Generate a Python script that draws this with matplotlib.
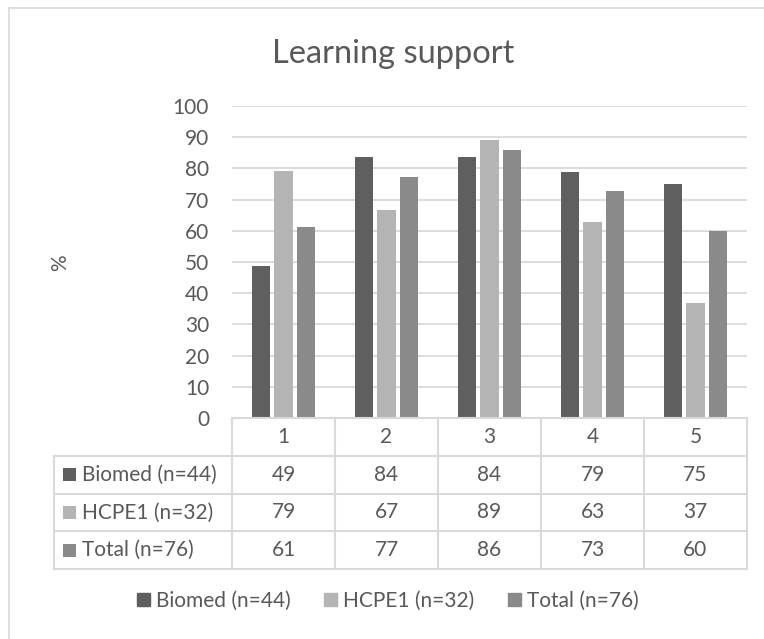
import matplotlib
matplotlib.use("Agg")
import matplotlib.pyplot as plt
from matplotlib.patches import Rectangle
from matplotlib.lines import Line2D
import numpy as np

plt.rcParams['font.family'] = ['Lato', 'DejaVu Sans']

title = "Learning support"
categories = ["1", "2", "3", "4", "5"]
series_names = ["Biomed (n=44)", "HCPE1 (n=32)", "Total (n=76)"]
biomed = [48.7, 83.8, 83.8, 79.0, 75.0]
hcpe1 = [79.3, 66.7, 89.2, 62.9, 37.0]
total = [61.3, 77.1, 85.9, 72.9, 59.8]
table_vals = [[49, 84, 84, 79, 75],
              [79, 67, 89, 63, 37],
              [61, 77, 86, 73, 60]]
colors = ["#5f5f5f", "#b4b4b4", "#8a8a8a"]

TXT = "#595959"
GRID = "#d9d9d9"
W, H = 764, 639
FS = 15

def fx(x):
    return x / W

def fy(y):
    return 1 - y / H

fig = plt.figure(figsize=(W / 100, H / 100), dpi=100)

# outer chart border (right/bottom edges fall outside the image)
fig.add_artist(Line2D([fx(8.5), fx(8.5)], [fy(7.5), 0], color=GRID, lw=1.2))
fig.add_artist(Line2D([fx(8.5), 1], [fy(7.5), fy(7.5)], color=GRID, lw=1.2))

# plot area
L, R, T, B = 232, 747, 106, 418
ax = fig.add_axes([fx(L), fy(B), (R - L) / W, (B - T) / H])
x = np.arange(len(categories))
bw = 0.175
step = 0.222
for i, (vals, c) in enumerate(zip([biomed, hcpe1, total], colors)):
    ax.bar(x + (i - 1) * step, vals, bw, color=c, label=series_names[i], zorder=3)
ax.set_xlim(-0.5, 4.5)
ax.set_ylim(0, 100)
ax.set_yticks(range(0, 101, 10))
ax.yaxis.grid(True, color=GRID, lw=1.3, zorder=0)
ax.set_xticks([])
for s in ax.spines.values():
    s.set_visible(False)
ax.tick_params(axis='y', length=0, pad=16.5, labelsize=FS, labelcolor=TXT)

fig.text(fx(60), fy(263), "%", rotation=90, ha='center', va='center',
         fontsize=FS, color=TXT)

fig.text(fx(393), fy(63), title, ha='center', va='baseline', fontsize=23.5, color=TXT)

# data table below the plot
TL, TB = 54, 569
lab_units = (L - TL) / ((R - L) / 5)
tax = fig.add_axes([fx(TL), fy(TB), (R - TL) / W, (TB - B) / H])
tax.set_xlim(-0.5 - lab_units, 4.5)
tax.set_ylim(4, 0)
tax.axis('off')
left = -0.5 - lab_units
lk = dict(color=GRID, lw=1.5, clip_on=False)
tax.plot([-0.5, 4.5], [0, 0], **lk)
for r in range(1, 5):
    tax.plot([left, 4.5], [r, r], **lk)
for c in range(6):
    tax.plot([c - 0.5, c - 0.5], [0, 4], **lk)
tax.plot([left, left], [1, 4], **lk)

for j, cat in enumerate(categories):
    tax.text(j, 0.5, cat, ha='center', va='center', fontsize=FS, color=TXT)
for i, name in enumerate(series_names):
    yc = i + 1.5
    sq_w = 13 / 103
    tax.add_patch(Rectangle((left + 9 / 103, yc - 0.17), sq_w, 0.34,
                            color=colors[i], lw=0))
    tax.text(left + 28 / 103, yc, name, ha='left', va='center',
             fontsize=FS, color=TXT)
    for j, v in enumerate(table_vals[i]):
        tax.text(j, yc, str(v), ha='center', va='center', fontsize=FS, color=TXT)

# legend
handles = [Rectangle((0, 0), 1, 1, color=c) for c in colors]
fig.legend(handles, series_names, loc='center', bbox_to_anchor=(fx(388), fy(601)),
           ncol=3, frameon=False, fontsize=FS, labelcolor=TXT,
           handlelength=0.62, handleheight=0.62, handletextpad=0.3,
           columnspacing=1.6)

fig.savefig("out.png", dpi=100)
